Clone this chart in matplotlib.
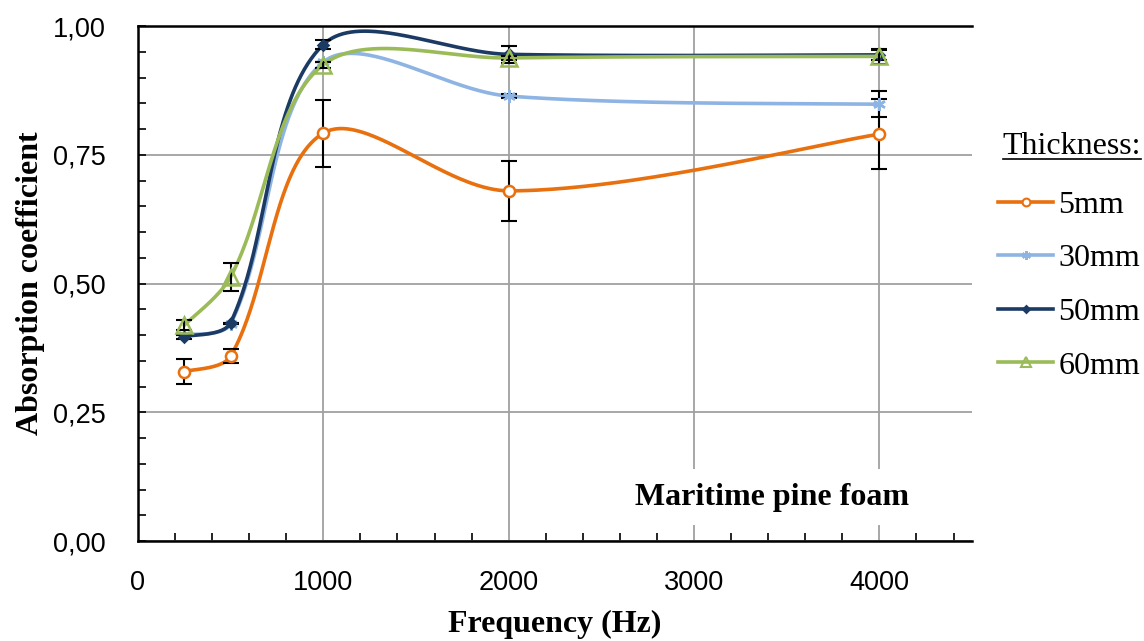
import numpy as np
import matplotlib
matplotlib.use("Agg")
import matplotlib.pyplot as plt
from matplotlib.lines import Line2D
from matplotlib.ticker import MultipleLocator, FuncFormatter

# data
freq = [250, 500, 1000, 2000, 4000]
labels = ["5mm", "30mm", "50mm", "60mm"]
a_5mm = [0.329, 0.359, 0.792, 0.680, 0.790]
a_30mm = [0.400, 0.422, 0.930, 0.864, 0.848]
a_50mm = [0.397, 0.424, 0.964, 0.945, 0.944]
a_60mm = [0.419, 0.513, 0.925, 0.938, 0.941]
err_5mm = [0.025, 0.014, 0.065, 0.058, 0.068]
err_30mm = [0.0, 0.0, 0.0, 0.004, 0.025]
err_50mm = [0.005, 0.0, 0.008, 0.017, 0.010]
err_60mm = [0.010, 0.027, 0.006, 0.004, 0.015]

colors = ["#E8700E", "#8EB4E3", "#1B3A64", "#9BBB59"]
markers = ["o", (6, 2, 0), "D", "^"]
msizes = [8, 9, 5, 11]
mfaces = ["white", "#8EB4E3", "#1B3A64", "none"]


def smooth(ax, xs, ys, n=80):
    # excel-like smoothed line, done in pixel space:
    # bezier segments, tangents scaled by neighbouring chord lengths
    p = ax.transData.transform(np.column_stack([xs, ys]).astype(float))
    m = len(p)
    t = np.linspace(0, 1, n)[:, None]
    out = []
    for i in range(m - 1):
        p0, p1 = p[i], p[i + 1]
        d = np.linalg.norm(p1 - p0)
        if i > 0:
            dp = np.linalg.norm(p0 - p[i - 1])
            c1 = p0 + (p1 - p[i - 1]) * d / (dp + d) / 3
        else:
            c1 = p0 + (p1 - p0) / 6
        if i < m - 2:
            dn = np.linalg.norm(p[i + 2] - p1)
            c2 = p1 - (p[i + 2] - p0) * d / (d + dn) / 3
        else:
            c2 = p1 - (p1 - p0) / 6
        seg = ((1 - t) ** 3) * p0 + 3 * ((1 - t) ** 2) * t * c1 + 3 * (1 - t) * t ** 2 * c2 + t ** 3 * p1
        out.append(seg)
    c = ax.transData.inverted().transform(np.vstack(out))
    return c[:, 0], c[:, 1]


fig = plt.figure(figsize=(11.44, 6.41), dpi=100)
ax = fig.add_axes([0.1206, 0.156, 0.7291, 0.8034])

ax.set_xlim(0, 4500)
ax.set_ylim(0, 1.0)

ax.xaxis.set_major_locator(MultipleLocator(1000))
ax.xaxis.set_minor_locator(MultipleLocator(200))
ax.yaxis.set_major_locator(MultipleLocator(0.25))
ax.yaxis.set_minor_locator(MultipleLocator(0.05))
ax.yaxis.set_major_formatter(FuncFormatter(lambda v, p: f"{v:.2f}".replace(".", ",")))
ax.grid(True, which="major", color="#A0A0A0", lw=1.3, zorder=0)

for s in ["left", "bottom", "top"]:
    ax.spines[s].set_linewidth(1.8)
    ax.spines[s].set_color("black")
ax.spines["right"].set_visible(False)

ax.tick_params(which="both", direction="in", width=1.2, top=False, right=False)
ax.tick_params(which="major", length=0)
ax.tick_params(which="minor", length=6)
ax.tick_params(axis="y", which="major", length=6)
ax.tick_params(axis="y", pad=23)
ax.tick_params(axis="x", pad=21)
for lab in ax.get_xticklabels() + ax.get_yticklabels():
    lab.set_fontfamily("Liberation Sans")
    lab.set_fontsize(19.5)

series = [a_5mm, a_30mm, a_50mm, a_60mm]
errs = [err_5mm, err_30mm, err_50mm, err_60mm]
handles = []
for k in range(4):
    sx, sy = smooth(ax, freq, series[k])
    ax.plot(sx, sy, color=colors[k], lw=2.6, zorder=3 + k, solid_capstyle="round")
    ax.errorbar(freq, series[k], yerr=errs[k], fmt="none", ecolor="black",
                elinewidth=1.5, capsize=6, capthick=1.5, zorder=3 + k)
    ax.plot(freq, series[k], ls="none", marker=markers[k], ms=msizes[k],
            mfc=mfaces[k], mec=colors[k], mew=1.8, zorder=3 + k)
    handles.append(Line2D([], [], color=colors[k], lw=2.6, marker=markers[k],
                          ms=msizes[k] * 0.7, mfc=mfaces[k], mec=colors[k], mew=1.5))

ax.set_xlabel("Frequency (Hz)", fontfamily="Liberation Serif", fontweight="bold", fontsize=23, labelpad=10)
ax.set_ylabel("Absorption coefficient", fontfamily="Liberation Serif", fontweight="bold", fontsize=23, labelpad=6)

ax.text(0.760, 0.0854, "Maritime pine foam", transform=ax.transAxes, ha="center", va="center",
        fontfamily="Liberation Serif", fontweight="bold", fontsize=23, zorder=10,
        bbox=dict(facecolor="white", edgecolor="none", pad=10))

leg = fig.legend(handles, labels, loc="upper left", bbox_to_anchor=(0.872, 0.703),
                 frameon=False, handlelength=1.75, handletextpad=0.15, labelspacing=0.76,
                 prop={"family": "Liberation Serif", "size": 23}, borderaxespad=0,
                 borderpad=0)
fig.text(0.9975, 0.772, "Thickness:", ha="right", va="center",
         fontfamily="Liberation Serif", fontsize=23)
fig.add_artist(Line2D([0.877, 0.9975], [0.7525, 0.7525], color="black", lw=1.2,
                      transform=fig.transFigure))

fig.savefig("out.png", dpi=100)
